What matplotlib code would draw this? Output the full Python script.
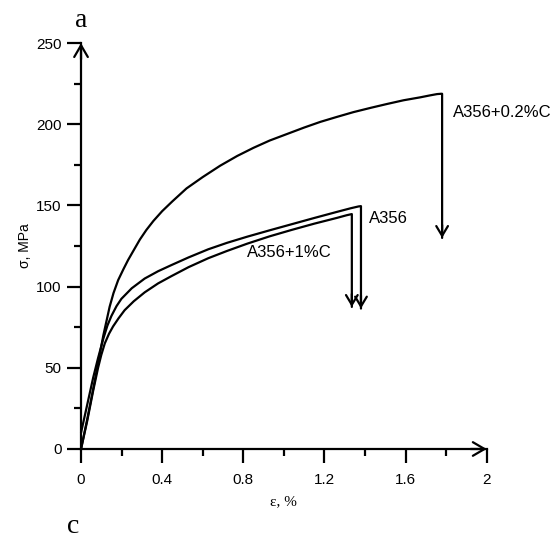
import matplotlib
matplotlib.use("Agg")
import matplotlib.pyplot as plt
from matplotlib.ticker import MultipleLocator

plt.rcParams['font.family'] = ['Liberation Sans', 'DejaVu Sans']

# stress-strain curves
eps_02c = [0, 0.03, 0.06, 0.084, 0.11, 0.141, 0.16, 0.183, 0.21, 0.232, 0.26,
           0.29, 0.322, 0.357, 0.4, 0.45, 0.52, 0.6, 0.686, 0.77, 0.85, 0.93,
           1.015, 1.1, 1.18, 1.26, 1.343, 1.43, 1.508, 1.59, 1.672, 1.72,
           1.755, 1.775]
sig_02c = [0, 18, 37, 52.8, 70, 87.6, 96, 104, 111, 116.4, 122.5,
           129, 134.9, 140.5, 146.5, 152.5, 160.5, 167.5, 174.5, 180.5, 185.5, 190,
           194, 198, 201.5, 204.5, 207.5, 210.2, 212.5, 214.8, 216.6, 217.8,
           218.6, 218.8]

eps_a356 = [0, 0.03, 0.06, 0.084, 0.11, 0.13, 0.15, 0.175, 0.199, 0.25, 0.314,
            0.38, 0.446, 0.53, 0.627, 0.72, 0.82, 0.93, 1.04, 1.15, 1.26,
            1.33, 1.368, 1.38]
sig_a356 = [10, 27, 44, 56, 68, 76, 82, 88, 92.5, 99, 105,
            109.5, 113.3, 118, 123, 127, 130.8, 134.7, 138.5, 142.3, 146,
            148.3, 149.4, 149.6]

eps_1c = [0, 0.03, 0.06, 0.084, 0.1, 0.117, 0.138, 0.158, 0.185, 0.215, 0.26,
          0.314, 0.38, 0.446, 0.53, 0.627, 0.72, 0.82, 0.93, 1.04, 1.15,
          1.26, 1.31, 1.335]
sig_1c = [0, 17, 36, 50, 58, 65, 71, 75.5, 80.5, 85.5, 91,
          96.5, 102, 106.5, 112, 117.5, 122, 126.5, 131, 135, 138.8,
          142.3, 144, 144.7]

# fracture drops (strain, stress at arrow tip)
drop_x = [1.78, 1.38, 1.335]
drop_tip = [130, 86.5, 87.5]

names = ["A356+0.2%C", "A356", "A356+1%C"]

fig = plt.figure(figsize=(5.55, 5.39), dpi=100)
ax = fig.add_axes([0.146, 0.167, 0.731, 0.753])

curves = [(eps_02c, sig_02c), (eps_a356, sig_a356), (eps_1c, sig_1c)]
for (e, s), dx, tip in zip(curves, drop_x, drop_tip):
    xs = list(e) + [dx, dx]
    ys = list(s) + [s[-1], tip]
    ax.plot(xs, ys, color='black', lw=1.6, solid_joinstyle='round',
            solid_capstyle='round', clip_on=False)
    ax.annotate('', xy=(dx, tip), xytext=(dx, tip + 8),
                arrowprops=dict(arrowstyle='->,head_length=0.5,head_width=0.3',
                                lw=1.6, color='black', shrinkA=0, shrinkB=0,
                                mutation_scale=14))

ax.text(1.835, 207, names[0], fontsize=12, va='center', ha='left')
ax.text(1.42, 142, names[1], fontsize=12, va='center', ha='left')
ax.text(0.82, 121, names[2], fontsize=12, va='center', ha='left')

ax.set_xlim(0, 2)
ax.set_ylim(0, 250)
ax.xaxis.set_minor_locator(MultipleLocator(0.2))
ax.yaxis.set_major_locator(MultipleLocator(50))
ax.yaxis.set_minor_locator(MultipleLocator(25))
ax.set_xticks([0, 0.4, 0.8, 1.2, 1.6, 2])
ax.set_xticklabels(['0', '0.4', '0.8', '1.2', '1.6', '2'])

for sp in ['top', 'right']:
    ax.spines[sp].set_visible(False)
for sp in ['left', 'bottom']:
    ax.spines[sp].set_linewidth(1.6)

ax.tick_params(which='major', direction='out', length=10, width=1.6, labelsize=11)
ax.tick_params(which='minor', direction='out', length=5, width=1.6)
ax.tick_params(axis='x', which='major', pad=7)
ax.tick_params(axis='y', which='major', pad=4)

# axis arrows
ax.annotate('', xy=(0, 1), xycoords='axes fraction', xytext=(0, 0.96),
            arrowprops=dict(arrowstyle='->,head_length=0.6,head_width=0.35',
                            lw=1.6, color='black', shrinkA=0, shrinkB=0,
                            mutation_scale=14))
ax.annotate('', xy=(1, 0), xycoords='axes fraction', xytext=(0.96, 0),
            arrowprops=dict(arrowstyle='->,head_length=0.6,head_width=0.35',
                            lw=1.6, color='black', shrinkA=0, shrinkB=0,
                            mutation_scale=14))

ax.set_ylabel('σ, MPa', fontsize=10, labelpad=3)
ax.set_xlabel('ε, %', fontsize=11, family='Liberation Serif', labelpad=6)

fig.text(81 / 555, 1 - 27 / 539, 'a', fontsize=20, family='Liberation Serif',
         ha='center', va='baseline')
fig.text(73 / 555, 1 - 533 / 539, 'c', fontsize=20, family='Liberation Serif',
         ha='center', va='baseline')

fig.savefig('out.png', dpi=100)
